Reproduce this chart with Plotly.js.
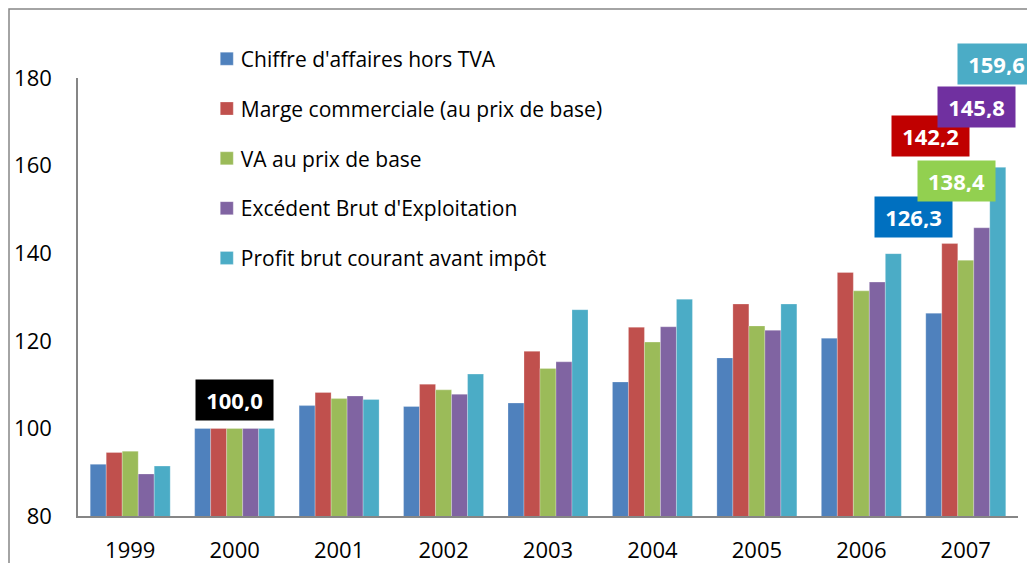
<!DOCTYPE html>
<html>
<head>
<meta charset="utf-8">
<script src="https://cdn.plot.ly/plotly-3.0.1.min.js"></script>
<style>
html,body{margin:0;padding:0;background:#fff;}
#chart{width:1027px;height:563px;}
</style>
</head>
<body>
<div id="chart"></div>
<script>
const years = ['1999','2000','2001','2002','2003','2004','2005','2006','2007'];
const seriesNames = [
  "Chiffre d'affaires hors TVA",
  "Marge commerciale (au prix de base)",
  "VA au prix de base",
  "Excédent Brut d'Exploitation",
  "Profit brut courant avant impôt"
];
const chiffreAffaires = [91.8, 100.0, 105.2, 105.0, 105.8, 110.6, 116.1, 120.6, 126.3];
const margeCommerciale = [94.5, 100.0, 108.2, 110.1, 117.6, 123.1, 128.4, 135.6, 142.2];
const vaPrixBase = [94.8, 100.0, 106.8, 108.8, 113.7, 119.7, 123.4, 131.4, 138.4];
const ebe = [89.6, 100.0, 107.4, 107.8, 115.2, 123.2, 122.4, 133.4, 145.8];
const profitBrut = [91.4, 100.0, 106.6, 112.4, 127.1, 129.5, 128.4, 139.9, 159.6];
const yTicks = [80, 100, 120, 140, 160, 180];

const allSeries = [chiffreAffaires, margeCommerciale, vaPrixBase, ebe, profitBrut];
const barColors = ['#4F81BD', '#C0504D', '#9BBB59', '#8064A2', '#4BACC6'];
const labelColors = ['#0070C0', '#C00000', '#92D050', '#7030A0', '#4BACC6'];
const FONT = 'Open Sans, DejaVu Sans, sans-serif';

const traces = allSeries.map((vals, i) => ({
  type: 'bar',
  name: seriesNames[i],
  x: years,
  y: vals,
  legendgroup: 'g' + i,
  marker: {color: barColors[i], line: {color: 'rgba(255,255,255,0.5)', width: 0.5}},
  hoverinfo: 'none'
}));

function fmt(v){ return v.toFixed(1).replace('.', ','); }

const lastIdx = years.length - 1;
const labelShifts = [
  {dx: -52, dy: 96},
  {dx: -35, dy: 108},
  {dx: -9, dy: 79},
  {dx: 11, dy: 121},
  {dx: 31, dy: 103}
];
const annotations = allSeries.map((vals, i) => ({
  x: lastIdx, y: vals[lastIdx], xref: 'x', yref: 'y',
  text: '<b>' + fmt(vals[lastIdx]) + '</b>',
  showarrow: false,
  xshift: labelShifts[i].dx, yshift: labelShifts[i].dy,
  xanchor: 'center', yanchor: 'middle',
  bgcolor: labelColors[i], borderpad: 9,
  width: 59, height: 22,
  font: {family: FONT, size: 22, color: '#ffffff'}
}));
annotations.push({
  x: 1, y: chiffreAffaires[1], xref: 'x', yref: 'y',
  text: '<b>' + fmt(chiffreAffaires[1]) + '</b>',
  showarrow: false, xshift: 0, yshift: 28,
  xanchor: 'center', yanchor: 'middle',
  bgcolor: '#000000', borderpad: 9,
  width: 59, height: 22,
  font: {family: FONT, size: 22, color: '#ffffff'}
});

const layout = {
  width: 1027, height: 563,
  margin: {l: 78, r: 9, t: 78, b: 47, pad: 0},
  paper_bgcolor: '#ffffff', plot_bgcolor: '#ffffff',
  font: {family: FONT, color: '#000000'},
  barmode: 'group',
  bargap: 0.234, bargroupgap: 0,
  showlegend: true,
  legend: {
    x: 0.137, xanchor: 'left', y: 1.09, yanchor: 'top',
    bgcolor: 'rgba(0,0,0,0)', borderwidth: 0,
    font: {family: FONT, size: 21, color: '#000000'},
    traceorder: 'grouped', tracegroupgap: 19.5,
    itemclick: false, itemdoubleclick: false
  },
  xaxis: {
    type: 'category',
    range: [-0.5, 8.5],
    showline: true, linecolor: '#868686', linewidth: 1.5,
    showgrid: false, zeroline: false,
    ticks: '', ticklabelstandoff: 14,
    tickfont: {family: FONT, size: 22, color: '#000000'},
    fixedrange: true
  },
  yaxis: {
    range: [80, 180],
    tickvals: yTicks,
    ticktext: yTicks.map(String),
    showline: true, linecolor: '#868686', linewidth: 1.5,
    showgrid: false, zeroline: false,
    ticks: '', ticklabelstandoff: 20,
    tickfont: {family: FONT, size: 22, color: '#000000'},
    fixedrange: true
  },
  annotations: annotations,
  shapes: [
    {type: 'rect', xref: 'paper', yref: 'paper',
     x0: (9 - 78) / 940, x1: 1.2, y0: -0.3, y1: (516 - 9) / 438,
     line: {color: '#868686', width: 1.5}, fillcolor: 'rgba(0,0,0,0)', layer: 'below'}
  ]
};

Plotly.newPlot('chart', traces, layout, {displayModeBar: false}).then(function(){
  document.querySelectorAll('.legendpoints path').forEach(function(p){
    p.setAttribute('d', 'M6.5,6.5H-6.5V-6.5H6.5Z');
  });
  document.querySelectorAll('.legend .legendtext').forEach(function(t){
    var x = parseFloat(t.getAttribute('x')) || 40;
    t.setAttribute('x', x - 6);
  });
});
</script>
</body>
</html>
